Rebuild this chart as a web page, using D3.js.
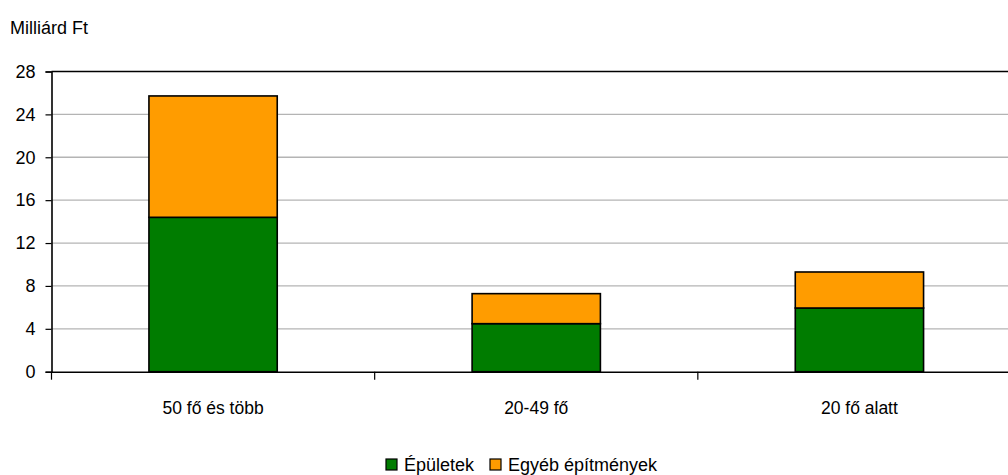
<!DOCTYPE html>
<html><head><meta charset="utf-8">
<script src="https://cdn.jsdelivr.net/npm/d3@7"></script>
<style>body{margin:0;background:#fff}svg{display:block;font-family:"Liberation Sans",Arial,sans-serif}</style>
</head><body><svg id="c" width="1008" height="475"></svg>
<script>
const categories = ["50 fő és több", "20-49 fő", "20 fő alatt"];
const seriesNames = ["Épületek", "Egyéb építmények"];
const epuletek = [14.4, 4.48, 5.94];
const egyeb = [11.32, 2.8, 3.36];
const colors = ["#007c00", "#ff9c00"];
const yTicks = [0, 4, 8, 12, 16, 20, 24, 28];

const svg = d3.select("#c");
const m = {left: 51.5, top: 71.5, bottom: 371.7, right: 1021};
const x = d3.scaleBand().domain(categories).range([m.left, m.right]).paddingInner(0).paddingOuter(0);
const y = d3.scaleLinear().domain([0, 28]).range([m.bottom, m.top]);

const data = categories.map((c, i) => ({cat: c, a: epuletek[i], b: egyeb[i]}));
const stack = d3.stack().keys(["a", "b"])(data);

// gridlines
svg.append("g").selectAll("line").data(yTicks.filter(t => t > 0 && t < 28)).join("line")
  .attr("x1", m.left).attr("x2", 1008).attr("y1", d => y(d)).attr("y2", d => y(d))
  .attr("stroke", "#b4b4b4").attr("stroke-width", 1.3);
// top border
svg.append("line").attr("x1", m.left).attr("x2", 1008).attr("y1", y(28)).attr("y2", y(28))
  .attr("stroke", "#000").attr("stroke-width", 1.6);

// bars
const bw = x.bandwidth() * 0.397;
svg.append("g").selectAll("g").data(stack).join("g").attr("fill", (d, i) => colors[i])
  .selectAll("rect").data(d => d).join("rect")
  .attr("x", d => x(d.data.cat) + x.bandwidth() / 2 - bw / 2)
  .attr("width", bw)
  .attr("y", d => y(d[1]))
  .attr("height", d => y(d[0]) - y(d[1]))
  .attr("stroke", "#000").attr("stroke-width", 1.6);

// y axis
const yAxis = d3.axisLeft(y).tickValues(yTicks).tickSize(6).tickPadding(10).tickFormat(d3.format("d"));
const gy = svg.append("g").attr("transform", `translate(${m.left},0)`).call(yAxis);
gy.select(".domain").attr("stroke", "#000").attr("stroke-width", 1.6);
gy.selectAll(".tick line").attr("stroke", "#000").attr("stroke-width", 1.2);
gy.selectAll("text").attr("font-size", 18).attr("fill", "#000").attr("font-family", "Liberation Sans, Arial, sans-serif");

// x axis
const xAxis = d3.axisBottom(x).tickSize(0).tickPadding(30);
const gx = svg.append("g").attr("transform", `translate(0,${m.bottom})`).call(xAxis);
gx.select(".domain").attr("stroke", "#000").attr("stroke-width", 1.6);
gx.selectAll("text").attr("font-size", 17.5).attr("fill", "#000").attr("font-family", "Liberation Sans, Arial, sans-serif");
// category separator ticks
const seps = categories.map(c => x(c)).concat([m.right]);
svg.append("g").selectAll("line").data(seps).join("line")
  .attr("x1", d => d).attr("x2", d => d).attr("y1", m.bottom).attr("y2", m.bottom + 8)
  .attr("stroke", "#000").attr("stroke-width", 1.2);

// unit label
svg.append("text").attr("x", 10).attr("y", 34).attr("font-size", 18).text("Milliárd Ft");

// legend
const lg = svg.append("g");
const lx = [386, 490];
seriesNames.forEach((n, i) => {
  lg.append("rect").attr("x", lx[i]).attr("y", 459).attr("width", 11).attr("height", 11)
    .attr("fill", colors[i]).attr("stroke", "#000").attr("stroke-width", 1.2);
  lg.append("text").attr("x", lx[i] + 18).attr("y", 471).attr("font-size", 18).text(n);
});
</script></body></html>
